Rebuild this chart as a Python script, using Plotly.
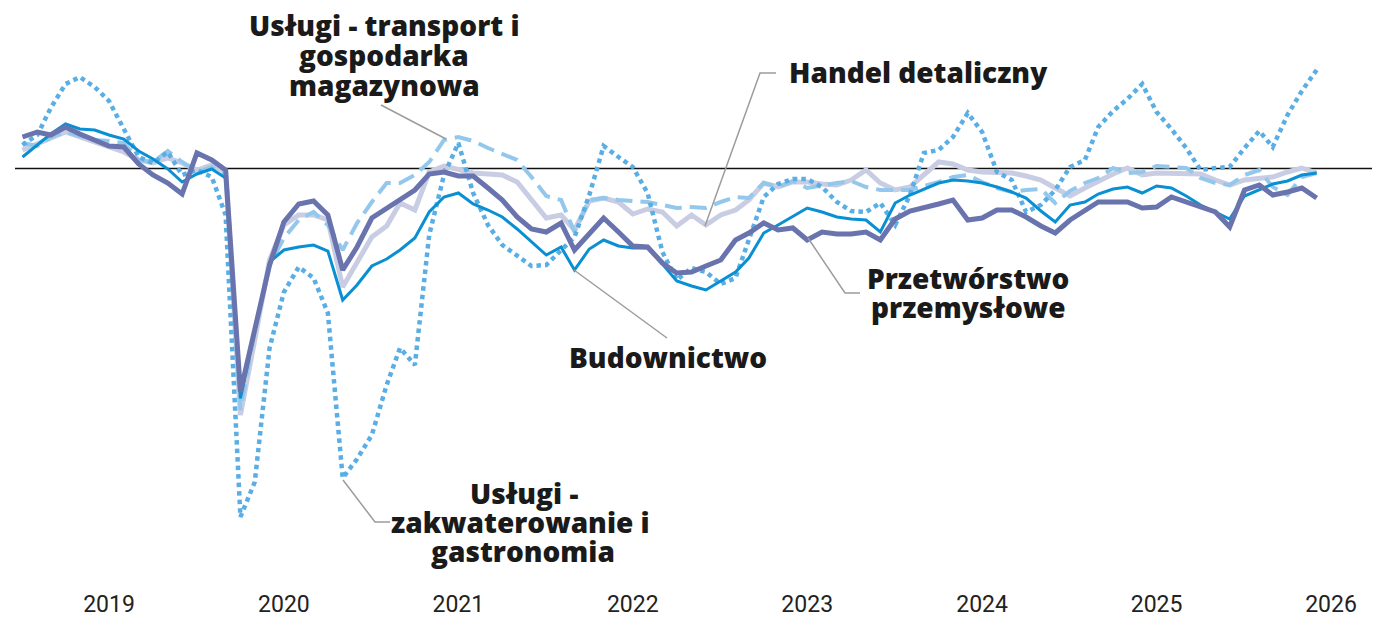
import pandas as pd
import plotly.graph_objects as go

# ---- data -------------------------------------------------------------
months = pd.date_range("2019-01-01", periods=90, freq="MS")

przetworstwo = [6.3, 7.3, 6.7, 8.3, 6.9, 5.7, 4.5, 4.3, 0.9, -1.3,
                -2.9, -5.1, 3.1, 1.7, -0.3, -44.7, -32.3, -19.3, -10.7, -7.1,
                -6.5, -9.3, -20.3, -15.7, -9.9, -7.9, -6.3, -4.3, -1.1, -0.7,
                -1.5, -1.5, -3.9, -6.3, -9.7, -12.1, -12.7, -10.9, -16.3, -12.9,
                -9.9, -12.7, -15.5, -15.7, -18.9, -20.9, -20.7, -19.5, -18.3, -14.3,
                -12.9, -10.9, -12.3, -11.9, -14.3, -12.7, -13.1, -13.1, -12.7, -14.3,
                -10.1, -8.5, -7.7, -7.1, -6.3, -10.3, -9.9, -8.3, -8.3, -9.7,
                -11.5, -12.9, -10.3, -8.3, -6.7, -6.7, -6.7, -7.9, -7.7, -5.7,
                -6.7, -7.9, -8.7, -11.7, -4.3, -3.3, -5.3, -4.7, -3.9, -5.9]

budownictwo = [2.3, 4.7, 6.9, 8.9, 7.9, 7.7, 6.7, 5.9, 3.5, 1.9,
               -0.1, -2.7, -1.1, -0.1, -1.9, -46.0, -32.3, -18.7, -16.3, -15.7,
               -15.3, -16.5, -26.3, -23.3, -19.5, -18.1, -16.3, -13.9, -8.7, -5.7,
               -4.9, -7.1, -8.3, -9.7, -12.1, -14.7, -17.3, -15.7, -20.3, -16.1,
               -14.3, -15.5, -15.9, -15.9, -19.1, -22.5, -23.5, -24.3, -22.5, -20.7,
               -17.9, -12.9, -11.3, -9.5, -7.9, -8.7, -9.7, -10.1, -10.3, -12.7,
               -6.9, -5.3, -4.1, -2.9, -2.3, -2.5, -2.9, -3.7, -4.7, -5.9,
               -8.5, -10.7, -7.3, -6.7, -5.1, -4.1, -3.7, -4.9, -3.5, -3.9,
               -5.5, -7.3, -8.7, -10.1, -5.5, -4.3, -3.1, -2.5, -1.3, -0.9]

handel = [3.7, 4.9, 5.9, 7.3, 6.3, 5.3, 4.5, 3.3, 1.7, 1.1,
          2.1, 1.1, -0.3, 0.7, -0.7, -49.3, -34.3, -18.3, -11.3, -9.3,
          -9.3, -10.3, -23.7, -18.7, -13.7, -11.5, -6.9, -8.3, -0.7, 0.5,
          -0.3, -0.9, -1.1, -1.3, -2.7, -6.3, -9.9, -9.3, -12.3, -6.5,
          -5.9, -6.7, -9.1, -8.1, -8.7, -11.5, -9.3, -11.3, -9.3, -8.3,
          -6.3, -2.9, -3.7, -2.7, -2.7, -3.1, -3.3, -2.3, -0.3, -2.9,
          -4.3, -3.7, -1.3, 1.3, 0.9, -0.3, -0.7, -0.7, -0.9, -1.5,
          -2.3, -3.9, -5.5, -3.9, -2.5, -1.1, 0.1, -1.3, -0.9, -0.9,
          -0.9, -1.1, -2.3, -3.3, -2.3, -2.1, -1.7, -0.7, 0.1, -0.9]

transport = [5.1, 4.5, 6.3, 7.3, 6.5, 5.7, 5.5, 5.1, 1.7, 1.3,
             3.5, 1.3, -0.7, 0.3, -1.1, -48.3, -32.3, -19.3, -13.9, -10.3,
             -8.7, -11.3, -16.3, -10.9, -6.7, -2.9, -2.9, -1.3, 1.3, 5.7,
             6.3, 5.5, 4.1, 2.9, 1.7, -1.7, -5.5, -6.3, -12.7, -6.3,
             -5.9, -6.3, -6.5, -6.7, -7.3, -7.9, -7.7, -7.9, -6.7, -5.7,
             -5.9, -2.9, -3.7, -2.5, -3.9, -3.5, -2.9, -2.5, -3.7, -4.3,
             -4.3, -4.3, -3.5, -2.7, -1.7, -1.3, -2.7, -3.9, -4.7, -4.3,
             -4.1, -6.9, -4.5, -2.9, -1.9, 0.1, -0.9, -0.7, 0.5, 0.3,
             0.1, -1.9, -2.9, -3.3, -1.3, -0.3, -3.7, -5.3, -1.7, -0.9]

gastronomia = [4.7, 6.7, 12.1, 16.9, 18.3, 16.3, 13.5, 7.7, 2.3, 1.1,
               3.3, -1.3, -0.3, -1.7, -9.3, -69.7, -62.7, -35.9, -24.7, -19.7,
               -21.9, -28.9, -61.9, -58.1, -53.3, -43.3, -35.9, -39.3, -13.3, -1.3,
               5.1, -4.9, -11.3, -15.3, -17.3, -19.5, -19.3, -16.5, -13.7, -5.3,
               4.5, 2.3, 0.3, -4.9, -16.7, -22.3, -19.9, -20.7, -23.1, -21.9,
               -14.3, -5.7, -3.1, -2.1, -2.1, -3.7, -6.7, -8.5, -8.7, -6.9,
               -11.3, -5.3, 3.1, 3.7, 6.3, 11.1, 7.3, -0.7, -2.3, -8.7,
               -7.3, -4.3, 0.3, 1.7, 8.3, 11.5, 13.9, 16.9, 11.3, 7.9,
               4.1, -0.3, 0.1, 0.3, 4.1, 7.5, 4.3, 10.7, 15.5, 19.7]

tick_years = ["2019", "2020", "2021", "2022", "2023", "2024", "2025", "2026"]

# ---- layout helpers -----------------------------------------------------
W, H = 1375, 620
L, R, T, B = 15, 3, 10, 32
PW, PH = W - L - R, H - T - B


def px(x):
    return (x - L) / PW


def py(y):
    return (H - B - y) / PH


tick_dates = [pd.Timestamp(f"{y}-07-01") for y in tick_years]
ppd = (1331 - 109) / (tick_dates[-1] - tick_dates[0]).days
x_start = tick_dates[0] - pd.Timedelta(days=(109 - L) / ppd)
x_end = tick_dates[0] + pd.Timedelta(days=(W - R - 109) / ppd)

zero_px = 168.5
upp = 5.0  # pixels per unit
y_top = (zero_px - T) / upp
y_bot = (zero_px - (H - B)) / upp

fig = go.Figure()

series = [
    ("Handel detaliczny", handel, dict(color="#c9cde3", width=5)),
    ("Usługi - transport i gospodarka magazynowa", transport,
     dict(color="#93c8ec", width=4, dash="17px,8px")),
    ("Usługi - zakwaterowanie i gastronomia", gastronomia,
     dict(color="#5aaee3", width=4.5, dash="4.5px,4px")),
    ("Budownictwo", budownictwo, dict(color="#0a8fd2", width=3)),
    ("Przetwórstwo przemysłowe", przetworstwo, dict(color="#6973ad", width=5)),
]
for name, vals, line in series:
    fig.add_trace(go.Scatter(x=months, y=vals, mode="lines", name=name,
                             line=line, hoverinfo="skip"))

# zero line
fig.add_shape(type="line", xref="paper", yref="y", x0=0, x1=1, y0=0, y1=0,
              line=dict(color="#111111", width=1.3), layer="below")

# leader lines
leaders = [
    [(381, 105), (446, 139)],
    [(705, 226), (760, 73), (776, 73)],
    [(808, 238), (845, 293), (860, 293)],
    [(574, 270), (667, 338)],
    [(343, 480), (375, 522), (390, 522)],
]
for pts in leaders:
    path = "M " + " L ".join(f"{px(a):.5f},{py(b):.5f}" for a, b in pts)
    fig.add_shape(type="path", xref="paper", yref="paper", path=path,
                  line=dict(color="#9c9c9c", width=1.5))

FONT = "Open Sans"
FS = 28
labels = [
    ("Usługi - transport i", 384, 25, "center"),
    ("gospodarka", 384, 55, "center"),
    ("magazynowa", 384, 85, "center"),
    ("Handel detaliczny", 787, 72, "left"),
    ("Przetwórstwo", 968, 278, "center"),
    ("przemysłowe", 968, 307, "center"),
    ("Budownictwo", 668, 357, "center"),
    ("Usługi -", 524, 493, "center"),
    ("zakwaterowanie i", 520, 522, "center"),
    ("gastronomia", 523, 551, "center"),
]
for text, x, y, anchor in labels:
    fig.add_annotation(x=px(x), y=py(y), xref="paper", yref="paper",
                       text=text, showarrow=False,
                       xanchor=anchor, yanchor="middle",
                       font=dict(family=FONT, size=FS, color="#1a1a1a",
                                 weight=800))

fig.update_layout(
    width=W, height=H,
    margin=dict(l=L, r=R, t=T, b=B),
    paper_bgcolor="white", plot_bgcolor="white",
    showlegend=False,
    xaxis=dict(range=[x_start, x_end], tickvals=tick_dates, ticktext=tick_years,
               showgrid=False, zeroline=False, showline=False, ticks="",
               tickfont=dict(family="Roboto", size=23, color="#222222")),
    yaxis=dict(range=[y_bot, y_top], showgrid=False, zeroline=False,
               showline=False, showticklabels=False, ticks=""),
)

fig.write_html("out.html",
               config={"displayModeBar": False},
               post_script="document.body.style.margin='0';"
                           "document.body.style.overflow='hidden';")
